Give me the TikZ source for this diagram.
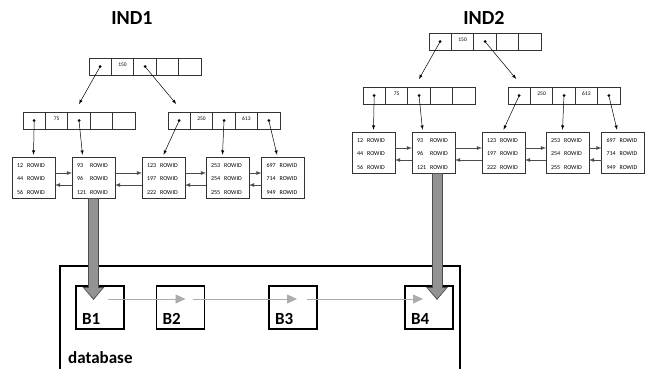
\documentclass[tikz,border=0pt]{standalone}
\usepackage{fontspec}
\setmainfont{Carlito}
\usetikzlibrary{arrows}
\usetikzlibrary{arrows.meta, positioning, calc, math}

\tikzset{
  cell/.style={draw=black!80, line width=0.7pt, minimum width=22.4pt, minimum height=17pt,
    inner sep=0pt, outer sep=0pt, text height=4pt, text depth=4pt, font=\fontsize{5.5}{6}\selectfont},
  leaf/.style={draw=black!80, line width=0.8pt, minimum height=40pt, text width=33pt,
    inner xsep=5pt, inner ysep=0pt, outer sep=0pt, align=left, font=\fontsize{6}{13.5}\selectfont},
  ptr/.style={-latex, line width=0.5pt},
  link/.style={-latex, line width=0.8pt, black!70},
  blk/.style={draw, line width=1.1pt, minimum width=48pt, minimum height=43pt, inner sep=0pt, outer sep=0pt},
  scan/.style={-{Triangle[width=9pt,length=10pt]}, gray!65, line width=0.8pt},
  fetchedge/.style={-{Triangle[width=21pt,length=13pt]}, gray!60!black, line width=11pt},
  fetch/.style={-{Triangle[width=17.5pt,length=10.5pt]}, gray!85, line width=9pt},
  title/.style={font=\fontsize{20}{24}\selectfont\bfseries},
  blabel/.style={font=\fontsize{17}{20}\selectfont\bfseries, inner sep=0pt},
}

\begin{document}
\begin{tikzpicture}[x=1pt, y=-1pt]
\tikzmath{
\cw=22.4;
\rowy=66.5;
\levy=120.5;
\leafy=178;
}
\useasboundingbox (0,0) rectangle (651,369);

\node[title] (ind1) at (132,18) {IND1};
\node[title] (ind2) at (484,18) {IND2};

% the two indexes, second one shifted up and right
\foreach \i/\dx/\dy in {1/0/0, 2/340/-25} {
\begin{scope}[shift={(\dx,\dy)}, name prefix=i\i-]
  \foreach \k/\rt/\at/\bt in {1///, 2/150/75/250, 3///, 4///613, 5///} {
    \node[cell] (r\k) at (77.8+\cw*\k, \rowy) {\rt};
    \node[cell] (a\k) at (11.8+\cw*\k, \levy) {\at};
    \node[cell] (b\k) at (156.8+\cw*\k, \levy) {\bt};
  }
  \foreach \c in {r1, r3, a1, a3, b1, b3, b5}
    \fill (\c.center) circle (1.5);

  \foreach \k/\x/\u/\v/\w in {1/33.5/12/44/56, 2/93.5/93/96/121, 3/163.5/123/197/222,
                              4/227.5/253/254/255, 5/283/697/714/949}
    \node[leaf] (l\k) at (\x, \leafy)
      {\begin{tabular}{@{}l@{\hspace{4pt}}l@{}}\u&ROWID\\\v&ROWID\\\w&ROWID\end{tabular}};

  \draw[ptr] (r1.center) -- ([yshift=8pt]a3.north);
  \draw[ptr] (r3.center) -- ([xshift=-3pt,yshift=8pt]b1.north);
  \draw[ptr] (a1.center) -- ([yshift=3pt]l1.north);
  \draw[ptr] (a3.center) -- ([xshift=-11pt,yshift=3pt]l2.north);
  \draw[ptr] (b1.center) -- ([yshift=3pt]l3.north);
  \draw[ptr] (b3.center) -- ([xshift=-5pt,yshift=3pt]l4.north);
  \draw[ptr] (b5.center) -- ([xshift=-6pt,yshift=3pt]l5.north);

  \foreach \p/\q in {l1/l2, l2/l3, l3/l4, l4/l5} {
    \draw[link] ([yshift=5pt]\p.east) -- ([yshift=5pt]\q.west);
    \draw[link] ([yshift=-7pt]\q.west) -- ([yshift=-7pt]\p.east);
  }
\end{scope}
}

% table blocks
\draw[line width=1.1pt] (60,372) -- (60,266) -- (460,266) -- (460,372);
\node[blk] (blk1) at (100,307.5) {};
\node[blk] (blk2) at (180.5,307.5) {};
\node[blk] (blk3) at (293,307.5) {};
\node[blk] (blk4) at (429,307.5) {};
\foreach \k in {1,...,4}
  \node[blabel, anchor=south west] (lab\k) at ([xshift=6pt,yshift=4pt]blk\k.south west) {B\k};
\node[blabel, anchor=base west] (dbname) at (68,363) {database};

\draw[scan] ([xshift=8pt,yshift=8.5pt]blk1.center) -- ([xshift=5pt,yshift=8.5pt]blk2.center);
\draw[scan] ([xshift=12pt,yshift=8.5pt]blk2.center) -- ([xshift=4pt,yshift=8.5pt]blk3.center);
\draw[scan] ([xshift=14pt,yshift=8.5pt]blk3.center) -- ([xshift=-6pt,yshift=8.5pt]blk4.center);

% rowid lookups into the blocks
\draw[fetchedge] (i1-l2.south) -- ($(i1-l2.south |- blk1.center)+(0,-7.5)$);
\draw[fetch] ([yshift=-0.5pt]i1-l2.south) -- ($(i1-l2.south |- blk1.center)+(0,-9)$);
\draw[fetchedge] ([xshift=3.5pt]i2-l2.south) -- ($(i2-l2.south |- blk4.center)+(3.5,-7.5)$);
\draw[fetch] ([xshift=3.5pt,yshift=-0.5pt]i2-l2.south) -- ($(i2-l2.south |- blk4.center)+(3.5,-9)$);

\end{tikzpicture}
\end{document}
